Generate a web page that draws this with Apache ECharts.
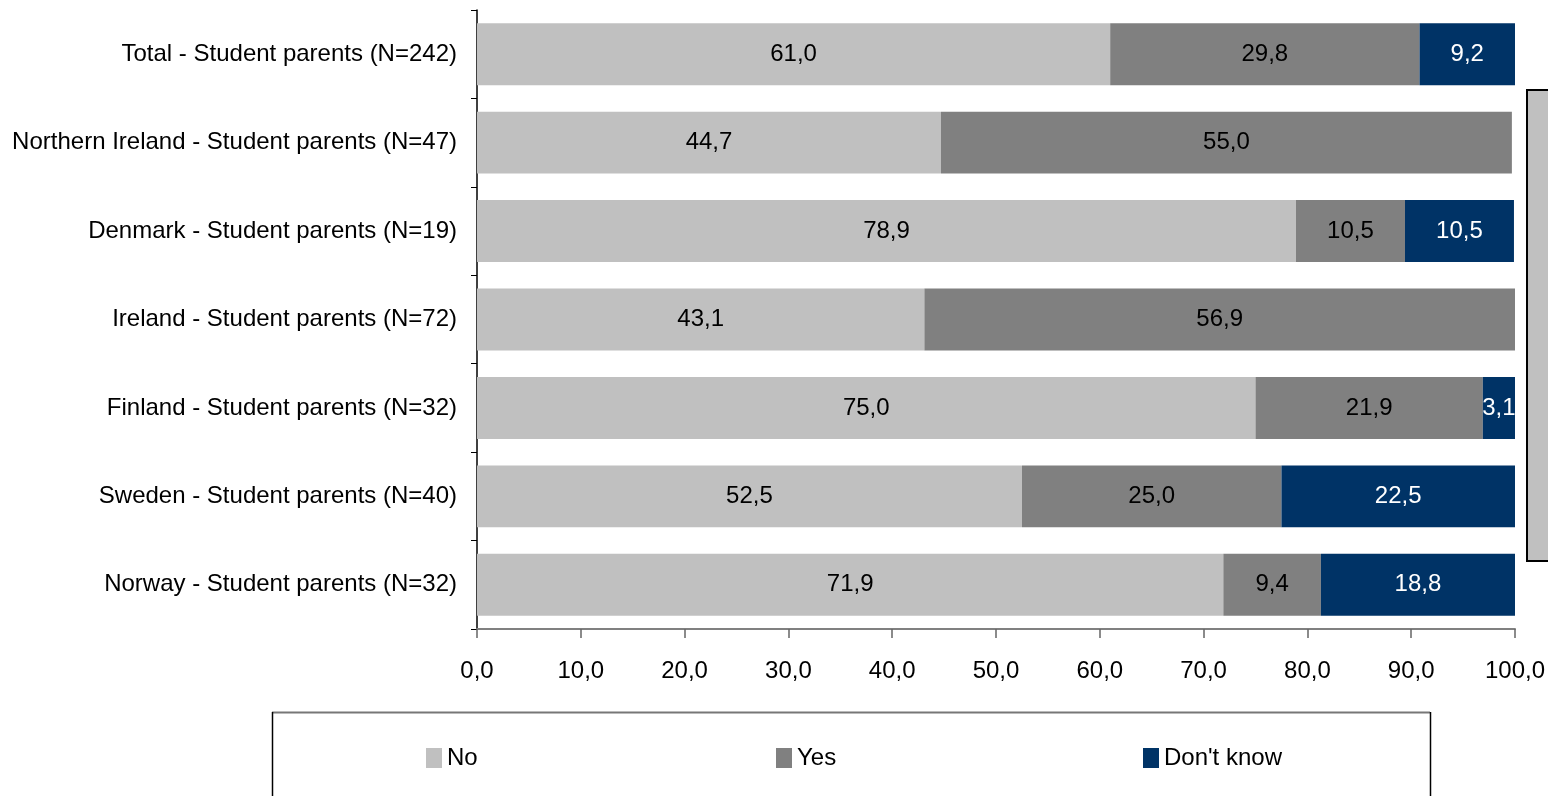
<!DOCTYPE html>
<html>
<head>
<meta charset="utf-8">
<script src="https://cdn.jsdelivr.net/npm/echarts@6/dist/echarts.min.js"></script>
<style>
html,body{margin:0;padding:0;background:#fff;}
#c{width:1548px;height:796px;}
</style>
</head>
<body>
<div id="c"></div>
<script>
const categories = [
  "Total - Student parents (N=242)",
  "Northern Ireland - Student parents (N=47)",
  "Denmark - Student parents (N=19)",
  "Ireland - Student parents (N=72)",
  "Finland - Student parents (N=32)",
  "Sweden - Student parents (N=40)",
  "Norway - Student parents (N=32)"
];
const noValues = [61.0, 44.7, 78.9, 43.1, 75.0, 52.5, 71.9];
const yesValues = [29.8, 55.0, 10.5, 56.9, 21.9, 25.0, 9.4];
const dontKnowValues = [9.2, null, 10.5, null, 3.1, 22.5, 18.8];
const seriesNames = ["No", "Yes", "Don't know"];
const xTicks = [0, 10, 20, 30, 40, 50, 60, 70, 80, 90, 100];

const FONT = '"Liberation Sans Narrow", "Arial Narrow", "Liberation Sans", Arial, sans-serif';
const fmt = v => (v == null ? '' : Number(v).toFixed(1).replace('.', ','));
const colors = ['#C0C0C0', '#808080', '#003366'];
const labelColors = ['#000', '#000', '#fff'];
const valueSets = [noValues, yesValues, dontKnowValues];

const chart = echarts.init(document.getElementById('c'), null, {renderer: 'canvas'});

const legendLefts = [421, 771, 1138];

const option = {
  backgroundColor: '#fff',
  animation: false,
  grid: {left: 477, right: 33, top: 10, bottom: 167, containLabel: false, outerBoundsMode: 'none'},
  xAxis: {
    type: 'value',
    min: xTicks[0],
    max: xTicks[xTicks.length - 1],
    interval: 10,
    axisLine: {show: true, lineStyle: {color: '#808080', width: 2}},
    axisTick: {show: true, length: 9, lineStyle: {color: '#666', width: 1.5}},
    splitLine: {show: false},
    axisLabel: {
      formatter: v => fmt(v),
      fontFamily: FONT, fontSize: 24, color: '#000', margin: 30
    }
  },
  yAxis: {
    type: 'category',
    data: categories,
    inverse: true,
    axisLine: {show: true, lineStyle: {color: '#000', width: 1.5}},
    axisTick: {show: true, length: 6, lineStyle: {color: '#000'}},
    axisLabel: {fontFamily: FONT, fontSize: 24, color: '#000', margin: 20}
  },
  legend: seriesNames.map((n, i) => ({
    data: [n],
    left: legendLefts[i],
    top: 741,
    icon: 'rect',
    itemWidth: 16,
    itemHeight: 20,
    itemGap: 5,
    textStyle: {fontFamily: FONT, fontSize: 24, color: '#000'},
    selectedMode: false
  })),
  series: seriesNames.map((n, i) => ({
    name: n,
    type: 'bar',
    stack: 'total',
    barWidth: '70%',
    data: valueSets[i],
    itemStyle: {color: colors[i]},
    label: {
      show: true,
      position: 'inside',
      formatter: p => fmt(p.value),
      fontFamily: FONT,
      fontSize: 24,
      color: labelColors[i]
    }
  })),
  graphic: [
    {type: 'line', shape: {x1: 272, y1: 712.5, x2: 1430, y2: 712.5}, style: {stroke: '#777', lineWidth: 2}},
    {type: 'line', shape: {x1: 272.5, y1: 712, x2: 272.5, y2: 800}, style: {stroke: '#000', lineWidth: 1.5}},
    {type: 'line', shape: {x1: 1430.5, y1: 712, x2: 1430.5, y2: 800}, style: {stroke: '#000', lineWidth: 1.5}},
    {type: 'rect', shape: {x: 1527, y: 90, width: 40, height: 471}, style: {fill: '#C0C0C0', stroke: '#000', lineWidth: 2}}
  ]
};
chart.setOption(option);
</script>
</body>
</html>
